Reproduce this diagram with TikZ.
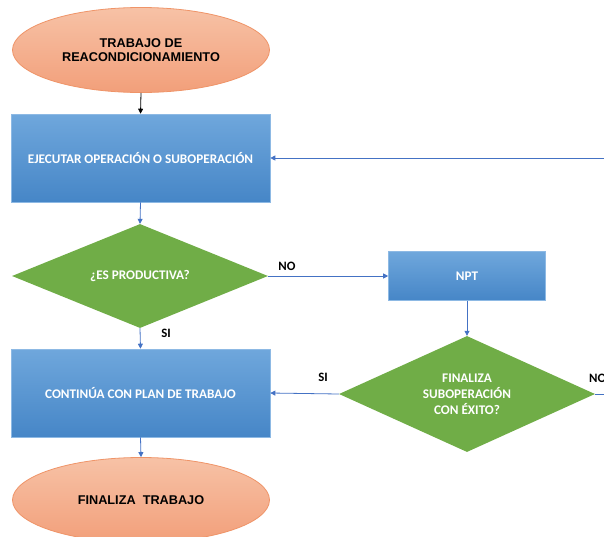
\documentclass[tikz,border=0pt]{standalone}
\usepackage{fontspec}
\setmainfont{Carlito}
\newfontfamily\arialfont{Liberation Sans}
\usetikzlibrary{shapes.geometric,arrows.meta}
\definecolor{ellTop}{HTML}{F7C2A6}
\definecolor{ellBot}{HTML}{F29F7A}
\definecolor{ellLine}{HTML}{EF9468}
\definecolor{boxTop}{HTML}{6FA7DC}
\definecolor{boxBot}{HTML}{4686C7}
\definecolor{boxLine}{HTML}{8DB9E4}
\definecolor{decGreen}{HTML}{70AD47}
\definecolor{flowBlue}{HTML}{4472C4}
\begin{document}
\begin{tikzpicture}[x=1pt,y=-1pt,
  terminal/.style={ellipse, minimum width=257pt, minimum height=85pt, inner sep=0pt,
    top color=ellTop, bottom color=ellBot, draw=ellLine, line width=0.8pt,
    font=\arialfont\bfseries\fontsize{12.7}{14}\selectfont, align=center, text=black},
  process/.style={rectangle, minimum width=259pt, minimum height=88pt, inner sep=0pt,
    top color=boxTop, bottom color=boxBot, draw=boxLine, line width=0.6pt,
    text=white, font=\bfseries\fontsize{13.2}{15}\selectfont, align=center},
  decision/.style={diamond, inner sep=0pt, fill=decGreen, text=white,
    font=\bfseries\fontsize{13.2}{16}\selectfont, align=center},
  flow/.style={draw=flowBlue, line width=0.8pt, -{Triangle[length=5pt,width=5pt]}},
  lbl/.style={font=\bfseries\fontsize{12.8}{14}\selectfont, text=black, inner sep=0pt}]
\clip (0,0) rectangle (604,536);

% nodes
\node[terminal] (start) at (141,50) {TRABAJO DE\\REACONDICIONAMIENTO};
\node[process] (exec) at (140.5,158) {EJECUTAR OPERACIÓN O SUBOPERACIÓN};
\node[decision, aspect=2.46, minimum width=256pt, minimum height=104pt] (prod) at (140,276) {¿ES PRODUCTIVA?};
\node[process, minimum width=157pt, minimum height=49pt] (npt) at (467,276) {NPT};
\node[decision, aspect=2.2, minimum width=256pt, minimum height=116pt] (fin) at (467,394) {FINALIZA\\SUBOPERACIÓN\\CON ÉXITO?};
\node[process] (cont) at (140.5,393) {CONTINÚA CON PLAN DE TRABAJO};
\node[terminal] (endn) at (141,500) {FINALIZA\ \ TRABAJO};

% connectors
\draw[flow, draw=black] (start.south) -- (exec.north);
\draw[flow] (exec.south) -- (prod.north);
\draw[flow] (prod.east) -- (npt.west);
\draw[flow] (npt.south) -- (fin.north);
\draw[flow] (fin.west) -- (cont.east);
\draw[flow] (prod.south) -- (cont.north);
\draw[flow] (cont.south) -- (endn.north);
\coordinate (loop) at (640,394);
\draw[flow] (fin.east) -- (loop) |- (exec.east);

% branch labels
\node[lbl] (no1) at (287,266) {NO};
\node[lbl] (si1) at (166,333) {SI};
\node[lbl] (si2) at (323,377) {SI};
\node[lbl, anchor=west] (no2) at (589,378) {NO};
\end{tikzpicture}
\end{document}
